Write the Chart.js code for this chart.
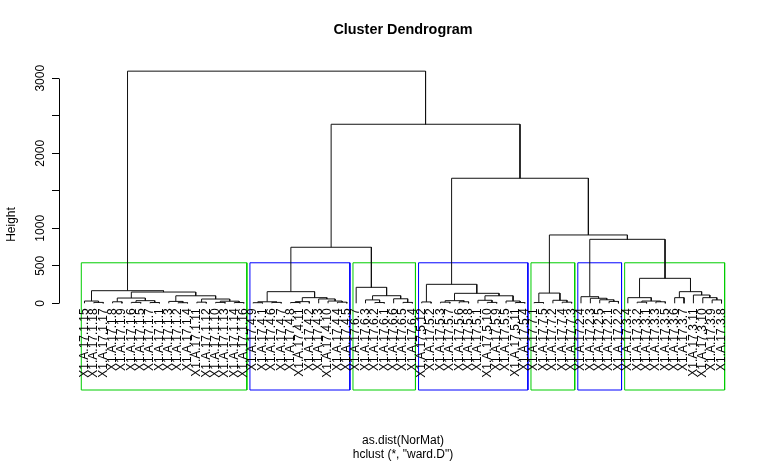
<!DOCTYPE html>
<html><head><meta charset="utf-8">
<script src="https://cdn.jsdelivr.net/npm/chart.js@4.4.1/dist/chart.umd.min.js"></script>
<style>html,body{margin:0;padding:0;background:#fff;}canvas{display:block;}</style>
</head><body>
<canvas id="c" width="777" height="463"></canvas>
<script>
// ---- data ----
const chartTitle = 'Cluster Dendrogram';
const xTitle = ['as.dist(NorMat)', 'hclust (*, "ward.D")'];
const yTitle = 'Height';
const yTicks = [0, 500, 1000, 1500, 2000, 2500, 3000];
const yTickLabels = ['0', '500', '1000', '', '2000', '', '3000'];

// leaf order (left to right): class digit per cluster and sample number
const labelPrefix = 'X1.A.17.';
const clusterClass = [1, 4, 6, 5, 7, 2, 3];
const clusterSizes = [18, 11, 7, 12, 5, 5, 11];
const leafNumbers = [15,18,17, 8,9,6,5,7,1,3,2,4, 11,12,10,13,14,16,
  9,1,6,7,8,11,2,3,10,4,5,
  7,3,2,1,6,5,4,
  12,2,3,7,6,8,1,10,9,5,11,4,
  1,5,2,4,3,
  4,3,5,1,2,
  4,2,1,3,5,6,7,11,10,9,8];

// sub-trees: [left, right, height]; numbers = leaf position
const tree1 = [[1,[2,3,12],30], [[[4,5,20],[[6,7,12],[8,9,10],35],70], [[10,[11,12,8],25], [[13,14,15],[[15,16,12],[17,18,10],28],57], 100], 150], 168];
const tree2 = [[[19,20,8],[21,22,12],20], [[[23,24,10],25,22], [26,[27,[28,29,15],30],58], 75], 155];
const tree3 = [30, [[31,[32,33,10],45], [34,[35,36,12],60], 101], 213];
const tree4 = [[37,38,18], [[[39,40,15],[41,42,20],35], [[43,[44,45,12],40], [46,[47,48,10],30], 100], 133], 253];
const tree5 = [[49,50,10], [51,[52,53,15],40], 136];
const tree6 = [54, [55,[56,[57,58,25],47],67], 88];
const tree7 = [[59, [[60,61,15],[62,63,20],30], 75], [[64,65,75], [66,[67,[68,69,45],75],110], 155], 333];
// upper merges heights
const upperHeights = [747, 853, 911, 1667, 2387, 3095];
const rectK = 7;
const rectColors = ['#00CD00', '#0000FF'];

// ---- build ----
const leafLabels = [];
{ let p = 0; clusterSizes.forEach((n, g) => { for (let i = 0; i < n; i++) { leafLabels.push(labelPrefix + clusterClass[g] + '.' + leafNumbers[p]); p++; } }); }
const nLeaves = leafLabels.length;

const n23 = [tree2, tree3, upperHeights[0]];
const n67 = [tree6, tree7, upperHeights[1]];
const n567 = [tree5, n67, upperHeights[2]];
const n4567 = [tree4, n567, upperHeights[3]];
const n2to7 = [n23, n4567, upperHeights[4]];
const root = [tree1, n2to7, upperHeights[5]];

const segs = [];
const allHeights = [];
function lay(node) {
  if (typeof node === 'number') return {x: node, y: 0};
  const l = lay(node[0]), r = lay(node[1]), h = node[2];
  segs.push({x: l.x, y: l.y}, {x: l.x, y: h}, {x: r.x, y: h}, {x: r.x, y: r.y}, {x: r.x, y: null});
  allHeights.push(h);
  return {x: (l.x + r.x) / 2, y: h};
}
lay(root);
allHeights.sort((a, b) => b - a);
const rectTop = (allHeights[rectK - 2] + allHeights[rectK - 1]) / 2;

const yMin = -1156, yMax = 3257;
const xMin = 1 - 0.04 * (nLeaves - 1), xMax = nLeaves + 0.04 * (nLeaves - 1);

const datasets = [{
  data: segs, borderColor: '#111', borderWidth: 1, pointRadius: 0, tension: 0, spanGaps: false, fill: false
}];
{ let s = 1; clusterSizes.forEach((n, g) => {
  const e = s + n - 1, x1 = s - 0.34, x2 = e + 0.33;
  datasets.push({
    data: [{x: x1, y: yMin}, {x: x1, y: rectTop}, {x: x2, y: rectTop}, {x: x2, y: yMin}, {x: x1, y: yMin}],
    borderColor: rectColors[g % 2], borderWidth: 1, pointRadius: 0, tension: 0, fill: false, clip: false
  });
  s = e + 1;
}); }

const FONT = '"Liberation Sans", Arial, Helvetica, sans-serif';
Chart.defaults.font.family = FONT;
Chart.defaults.color = '#000';

const rPlugin = {
  id: 'rAxis',
  afterDraw(chart) {
    const {ctx} = chart; const ys = chart.scales.y, xs = chart.scales.x;
    ctx.save();
    ctx.strokeStyle = '#000'; ctx.lineWidth = 1;
    const ax = chart.chartArea.left + 0.5;
    ctx.beginPath();
    ctx.moveTo(ax, Math.round(ys.getPixelForValue(yTicks[0])) + 0.5);
    ctx.lineTo(ax, Math.round(ys.getPixelForValue(yTicks[yTicks.length - 1])) + 0.5);
    ctx.stroke();
    ctx.fillStyle = '#000';
    ctx.font = '12px ' + FONT;
    ctx.textAlign = 'center'; ctx.textBaseline = 'middle';
    yTickLabels.forEach((lab, i) => {
      if (!lab) return;
      ctx.save(); ctx.translate(chart.chartArea.left - 18, ys.getPixelForValue(yTicks[i])); ctx.rotate(-Math.PI / 2);
      ctx.fillText(lab, 0, 0); ctx.restore();
    });
    ctx.textAlign = 'right';
    const top = ys.getPixelForValue(0) + 5;
    leafLabels.forEach((lab, i) => {
      ctx.save(); ctx.translate(xs.getPixelForValue(i + 1), top); ctx.rotate(-Math.PI / 2);
      ctx.fillText(lab, 0, 0); ctx.restore();
    });
    ctx.restore();
  }
};

new Chart(document.getElementById('c'), {
  type: 'line',
  data: {datasets},
  plugins: [rPlugin],
  options: {
    responsive: false, animation: false, devicePixelRatio: 1,
    layout: {padding: {left: 0, right: 30, top: 0, bottom: 0}},
    plugins: {
      legend: {display: false}, tooltip: {enabled: false},
      title: {display: true, text: chartTitle, fullSize: false, color: '#000',
        font: {size: 14.4, weight: 'bold', family: FONT}, padding: {top: 21, bottom: 20.72}}
    },
    scales: {
      x: {type: 'linear', min: xMin, max: xMax, display: true,
        ticks: {display: false}, grid: {display: false}, border: {display: false},
        title: {display: true, text: xTitle, color: '#000', font: {size: 12, family: FONT}, padding: {top: 0, bottom: 1}},
        afterFit: s => { s.height = 73; }
      },
      y: {type: 'linear', min: yMin, max: yMax, display: true,
        afterBuildTicks: s => { s.ticks = yTicks.map(v => ({value: v})); },
        ticks: {display: false},
        grid: {display: true, drawOnChartArea: false, drawTicks: true, tickLength: 7, color: '#000', lineWidth: 1},
        border: {display: false},
        title: {display: true, text: yTitle, color: '#000', font: {size: 12, family: FONT}, padding: {top: 4, bottom: 0}},
        afterFit: s => { s.width = 59; }
      }
    }
  }
});
</script>
</body></html>
